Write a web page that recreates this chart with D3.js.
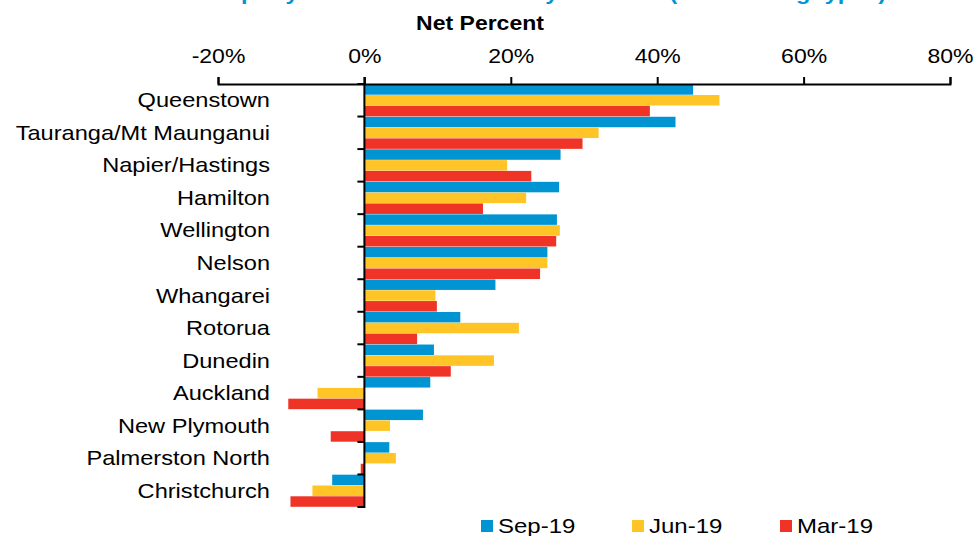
<!DOCTYPE html>
<html><head><meta charset="utf-8">
<script src="https://cdn.jsdelivr.net/npm/d3@7"></script>
<style>body{margin:0;background:#fff}svg{display:block}text{font-family:"Liberation Sans",Arial,sans-serif;fill:#000}</style>
</head><body><svg id="c" width="977" height="536"></svg>
<script>
const categories = ["Queenstown","Tauranga/Mt Maunganui","Napier/Hastings","Hamilton","Wellington","Nelson","Whangarei","Rotorua","Dunedin","Auckland","New Plymouth","Palmerston North","Christchurch"];
const seriesNames = ["Sep-19","Jun-19","Mar-19"];
const sep19 = [44.9, 42.5, 26.8, 26.6, 26.3, 25.0, 17.9, 13.1, 9.5, 9.0, 8.0, 3.4, -4.4];
const jun19 = [48.5, 32.0, 19.5, 22.1, 26.7, 25.0, 9.7, 21.1, 17.7, -6.4, 3.5, 4.3, -7.1];
const mar19 = [39.0, 29.8, 22.8, 16.2, 26.2, 24.0, 9.9, 7.2, 11.8, -10.4, -4.6, -0.5, -10.1];
const xTicks = [-20, 0, 20, 40, 60, 80];
const colors = ["#0094d2", "#ffc425", "#ef3326"];
const title = "Property Investment Outlook by Location (All Dwelling types)";

const svg = d3.select("#c");
const SX = 1.18;
const x = d3.scaleLinear().domain([-20, 80]).range([218, 950]);
const y = d3.scaleBand().domain(categories).range([84, 507]).padding(0);
const ySub = d3.scaleBand().domain(seriesNames).range([0, y.bandwidth()]).paddingInner(0.03).paddingOuter(0.02);
const series = [sep19, jun19, mar19];

// title (cut off at top)
svg.append("text").attr("transform", "translate(544,-0.5) scale(1.12,1)").attr("text-anchor", "middle")
  .style("font-weight", "bold").style("font-size", "21px").style("fill", "#0096d6").text(title);

svg.append("text").attr("transform", "translate(480,30) scale(1.15,1)").attr("text-anchor", "middle")
  .style("font-weight", "bold").style("font-size", "20px").text("Net Percent");

// bars
seriesNames.forEach((s, si) => {
  svg.append("g").selectAll("rect").data(categories).join("rect")
    .attr("x", (d, i) => x(Math.min(0, series[si][i])))
    .attr("width", (d, i) => Math.abs(x(series[si][i]) - x(0)))
    .attr("y", d => y(d) + ySub(s))
    .attr("height", ySub.bandwidth())
    .attr("fill", colors[si]);
});

// top axis
const xAxis = d3.axisTop(x).tickValues(xTicks).tickSize(7).tickSizeOuter(7).tickFormat(d => d + "%");
const gx = svg.append("g").attr("transform", "translate(0,84)").call(xAxis);
gx.select(".domain").attr("stroke", "#000").attr("stroke-width", 2);
gx.selectAll(".tick line").attr("stroke", "#000").attr("stroke-width", 2);
gx.selectAll(".tick text").attr("y", 0).attr("dy", 0)
  .attr("transform", "translate(0,-21) scale(" + SX + ",1)")
  .style("font-size", "19.5px").style("font-family", "'Liberation Sans',Arial,sans-serif");

// category axis at x=0
const yEdges = categories.map(c => y(c)).concat([y.range()[1]]);
const gy = svg.append("g");
gy.append("line").attr("x1", x(0)).attr("x2", x(0)).attr("y1", 77).attr("y2", 508).attr("stroke", "#000").attr("stroke-width", 2);
gy.selectAll("line.t").data(yEdges).join("line").attr("class", "t")
  .attr("x1", x(0) - 7).attr("x2", x(0)).attr("y1", d => d).attr("y2", d => d)
  .attr("stroke", "#000").attr("stroke-width", 2);
gy.selectAll("text").data(categories).join("text")
  .attr("transform", d => "translate(270," + (y(d) + y.bandwidth() / 2 + 7) + ") scale(" + SX + ",1)")
  .attr("text-anchor", "end").style("font-size", "20px").text(d => d);

// legend
const legX = [481, 632, 780];
const lg = svg.append("g");
seriesNames.forEach((s, i) => {
  lg.append("rect").attr("x", legX[i]).attr("y", 520).attr("width", 12).attr("height", 12).attr("fill", colors[i]);
  lg.append("text").attr("transform", "translate(" + (legX[i] + 17) + ",533) scale(1.2,1)")
    .style("font-size", "20px").text(s);
});
</script></body></html>
